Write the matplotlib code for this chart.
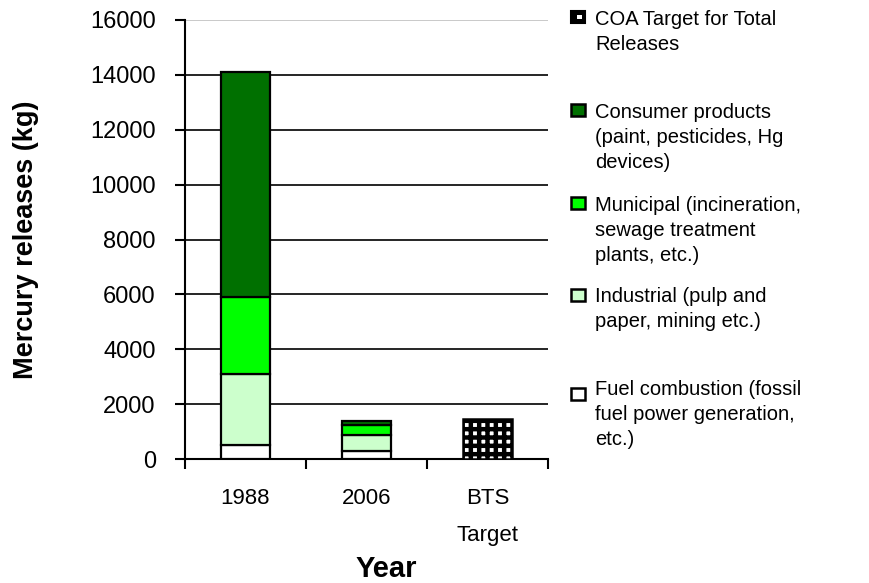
import matplotlib
matplotlib.use("Agg")
import matplotlib.pyplot as plt
from matplotlib.patches import Rectangle
import numpy as np

plt.rcParams['font.family'] = ['Liberation Sans', 'DejaVu Sans']
plt.rcParams['hatch.linewidth'] = 3.2
plt.rcParams['hatch.color'] = 'black'

# ---- data ----
categories = ["1988", "2006", "BTS\nTarget"]
fuel = [500, 290, 0]
industrial = [2600, 585, 0]
municipal = [2800, 365, 0]
consumer = [8200, 145, 0]
coa_target = [0, 0, 1460]

series_names = ["COA Target for Total\nReleases",
                "Consumer products\n(paint, pesticides, Hg\ndevices)",
                "Municipal (incineration,\nsewage treatment\nplants, etc.)",
                "Industrial (pulp and\npaper, mining etc.)",
                "Fuel combustion (fossil\nfuel power generation,\netc.)"]
yticks = [0, 2000, 4000, 6000, 8000, 10000, 12000, 14000, 16000]

colors = {"fuel": "#FFFFFF", "industrial": "#CCFFCC",
          "municipal": "#00FF00", "consumer": "#007000"}

W, H = 869, 583
fig = plt.figure(figsize=(W / 100, H / 100), dpi=100)
ax = fig.add_axes([185 / W, 1 - 459 / H, 363 / W, 439 / H])

x = np.arange(len(categories))
bw = 0.4
bottom = np.zeros(len(categories))
for vals, key in [(fuel, "fuel"), (industrial, "industrial"),
                  (municipal, "municipal"), (consumer, "consumer")]:
    v = np.array(vals, dtype=float)
    mask = v > 0
    ax.bar(x[mask], v[mask], bw, bottom=bottom[mask], color=colors[key],
           edgecolor="black", linewidth=1.6, zorder=3)
    bottom += v

ct = np.array(coa_target, dtype=float)
m = ct > 0
ax.bar(x[m], ct[m], bw, color="white", edgecolor="black", hatch="++",
       linewidth=1.8, zorder=3)

ax.set_xlim(-0.5, 2.5)
ax.set_ylim(0, 16000)
ax.set_yticks(yticks)
ax.set_yticklabels([str(t) for t in yticks], fontsize=17)
ax.tick_params(axis='y', direction='out', length=7, width=1.5, pad=14)

ax.set_xticks([-0.5, 0.5, 1.5, 2.5])
ax.set_xticklabels([])
ax.set_xticks(x, minor=True)
ax.set_xticklabels(categories, minor=True, fontsize=16, linespacing=2.0, va='top')
ax.tick_params(axis='x', which='major', direction='out', length=7, width=1.5)
ax.tick_params(axis='x', which='minor', length=0, pad=21)

ax.yaxis.grid(True, color="black", linewidth=1.2, zorder=0)
ax.set_axisbelow(True)
gls = ax.get_ygridlines()
gls[-1].set_color("#c0c0c0")

for s in ["top", "right"]:
    ax.spines[s].set_visible(False)
ax.spines["left"].set_linewidth(1.5)
ax.spines["bottom"].set_linewidth(1.5)

ax.set_ylabel("Mercury releases (kg)", fontsize=19.5, fontweight="bold", va="center")
ax.yaxis.set_label_coords((26 - 185) / 363, 0.5)
fig.text(386 / W, 1 - 577 / H, "Year", fontsize=21, fontweight="bold",
         ha="center", va="baseline")

# ---- legend (manual, right side) ----
leg_tops = [11, 104, 197, 289, 388]
leg_text_tops = [10, 103, 196, 287, 380]
leg_faces = [None, colors["consumer"], colors["municipal"], colors["industrial"], colors["fuel"]]
for name, sq_top, tt, face in zip(series_names, leg_tops, leg_text_tops, leg_faces):
    if face is None:
        r = Rectangle((571 / W, 1 - (sq_top + 12) / H), 14 / W, 12 / H,
                      transform=fig.transFigure, facecolor="black",
                      edgecolor="black", linewidth=1.5)
        fig.add_artist(r)
        r2 = Rectangle((577 / W, 1 - (sq_top + 8) / H), 5 / W, 4 / H,
                       transform=fig.transFigure, facecolor="white",
                       edgecolor="none")
        fig.add_artist(r2)
    else:
        r = Rectangle((571 / W, 1 - (sq_top + 12) / H), 14 / W, 12 / H,
                      transform=fig.transFigure, facecolor=face,
                      edgecolor="black", linewidth=1.8)
        fig.add_artist(r)
    fig.text(595 / W, 1 - tt / H, name, fontsize=14.5, ha="left", va="top",
             linespacing=1.4)

fig.savefig("out.png", dpi=100)
